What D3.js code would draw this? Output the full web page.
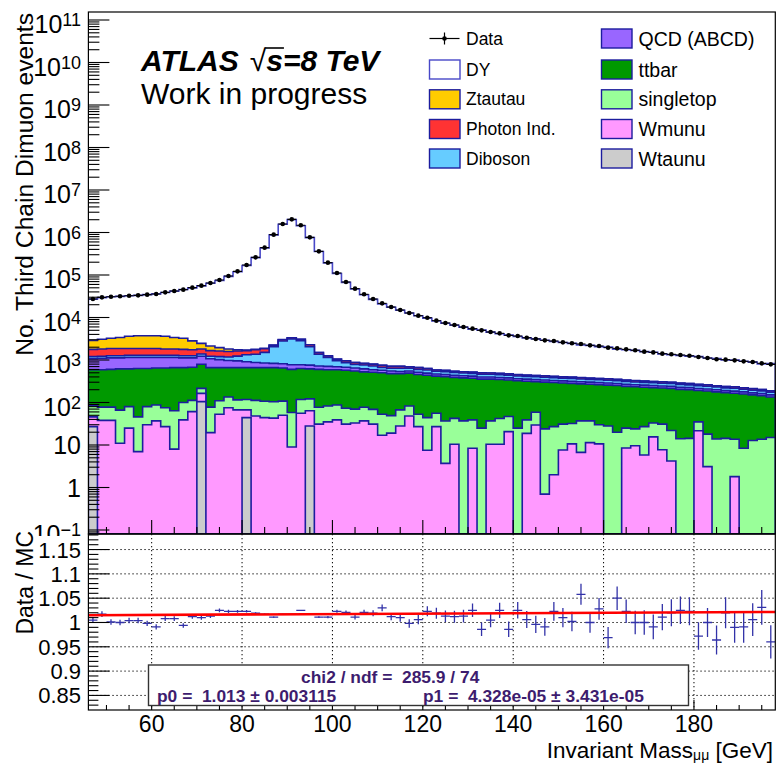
<!DOCTYPE html>
<html>
<head>
<meta charset="utf-8">
<script src="https://cdn.jsdelivr.net/npm/d3@7"></script>
<style>
  body { margin: 0; background: #fff; }
  svg { display: block; }
  text { font-family: "Liberation Sans", Arial, Helvetica, sans-serif; }
</style>
</head>
<body>
<svg id="chart" width="777" height="764"></svg>
<script>
// Binning: 76 bins of 2 GeV from 46 to 198 GeV
const massMin = 46, binWidth = 2, nBins = 76;

// Observed events per bin
const dataCounts = [27200, 29800, 30900, 31500, 32600, 33200, 34500, 35700, 39100, 42000,
  45200, 50400, 56100, 64800, 76300, 94700, 121900, 171800, 260500, 439700,
  889000, 1585000, 2040000, 1476000, 769000, 360500, 195000, 111400, 68400, 47700,
  35100, 27200, 21500, 17650, 15000, 12760, 11040, 9900, 8440, 7430,
  6670, 5980, 5460, 4990, 4560, 4240, 3800, 3670, 3350, 3120,
  2900, 2800, 2600, 2470, 2380, 2210, 2130, 1950, 1880, 1780,
  1690, 1570, 1510, 1410, 1360, 1310, 1260, 1180, 1110, 1040,
  1020, 982, 930, 898, 835, 791];

// Data / MC ratio per bin
const ratio = [1.005, 1.017, 1.001, 1.000, 1.004, 1.004, 0.998, 0.991, 1.008, 1.008,
  0.994, 1.012, 1.010, 1.013, 1.025, 1.023, 1.023, 1.023, 1.019, 1.017,
  1.011, 1.017, 1.017, 1.025, 1.017, 1.011, 1.011, 1.023, 1.021, 1.011,
  1.021, 1.019, 1.030, 1.012, 1.010, 0.998, 1.006, 1.023, 1.019, 1.013,
  1.012, 1.013, 1.025, 0.986, 1.005, 1.025, 0.986, 1.025, 1.006, 0.996,
  0.991, 1.023, 1.010, 1.002, 1.058, 1.000, 1.028, 0.969, 1.050, 1.023,
  1.000, 1.000, 0.991, 1.011, 1.020, 1.025, 1.023, 0.972, 1.000, 0.964,
  1.020, 0.990, 0.991, 1.006, 1.031, 0.960];

// Simulated samples (events per bin)
const dy = [24200, 26200, 27600, 28100, 28800, 29400, 30900, 32300, 35200, 38300,
  42200, 47000, 53100, 61800, 72500, 90800, 117400, 166200, 253900, 430500,
  877100, 1555400, 2002500, 1436900, 753800, 355100, 191600, 107800, 66000, 46300,
  33500, 25900, 20100, 16700, 14100, 12090, 10300, 9040, 7700, 6760,
  6040, 5370, 4800, 4560, 4040, 3650, 3380, 3120, 2880, 2700,
  2500, 2320, 2170, 2070, 1860, 1830, 1700, 1650, 1440, 1400,
  1360, 1250, 1210, 1090, 1030, 990, 950, 945, 850, 830,
  760, 760, 715, 680, 605, 634];

const ztautau = [1106, 1270, 1374, 1526, 1769, 1853, 1853, 1853, 1811, 1568,
  1458, 1080, 635, 478, 328, 235, 116, 60, 40, 30,
  20, 15, 12, 10, 8, 7, 6, 5, 5, 4,
  4, 4, 3, 3, 3, 3, 3, 3, 3, 3,
  3, 3, 3, 3, 3, 3, 3, 3, 3, 3,
  3, 3, 3, 3, 3, 3, 2, 2, 2, 2,
  2, 2, 2, 2, 2, 2, 2, 2, 2, 2,
  2, 2, 2, 2, 2, 2];

const photonInd = [576, 590, 603, 603, 574, 574, 574, 574, 532, 532,
  519, 479, 440, 430, 420, 408, 387, 328, 380, 330,
  170, 200, 200, 200, 220, 130, 95, 80, 85, 80,
  65, 72, 78, 72, 72, 52, 58, 48, 38, 37,
  35, 34, 33, 32, 32, 31, 30, 29, 28, 28,
  27, 27, 26, 25, 25, 24, 24, 23, 23, 22,
  21, 21, 20, 20, 19, 18, 18, 17, 17, 16,
  15, 15, 14, 14, 13, 12];

const diboson = [130, 134, 137, 137, 140, 140, 140, 140, 140, 140,
  137, 137, 150, 158, 179, 200, 280, 420, 489, 662,
  1228, 1987, 2344, 2074, 1301, 636, 442, 271, 189, 144,
  145, 133, 97, 87, 100, 87, 90, 92, 75, 73,
  70, 68, 67, 64, 64, 62, 61, 58, 57, 56,
  54, 53, 52, 51, 50, 48, 47, 46, 45, 43,
  42, 41, 40, 39, 39, 37, 36, 34, 33, 32,
  31, 30, 28, 27, 26, 24];

const qcd = [483, 507, 519, 505, 531, 517, 517, 502, 502, 487,
  461, 446, 436, 411, 362, 316, 294, 251, 210, 190,
  171, 167, 173, 145, 142, 121, 119, 103, 101, 96,
  92, 76, 74, 71, 58, 60, 56, 53, 50, 49,
  47, 46, 45, 43, 42, 42, 41, 39, 38, 37,
  36, 35, 35, 34, 33, 32, 32, 31, 30, 29,
  28, 27, 27, 26, 26, 24, 24, 23, 22, 21,
  20, 20, 19, 18, 17, 16];

const ttbar = [504, 511, 525, 551, 537, 585, 551, 559, 571, 597,
  561, 564, 579, 583, 551, 526, 546, 543, 549, 554,
  557, 538, 545, 513, 495, 526, 506, 502, 502, 480,
  448, 444, 448, 430, 412, 407, 404, 393, 361, 370,
  347, 343, 333, 330, 318, 305, 292, 299, 277, 250,
  278, 268, 257, 250, 238, 232, 233, 229, 231, 215,
  210, 202, 191, 188, 192, 190, 186, 156, 168, 164,
  156, 152, 150, 138, 131, 120];

const singletop = [39, 40, 40, 55, 55, 39, 50, 50, 48, 56,
  61, 51, 51, 58.5, 57, 60, 48, 51, 64, 63,
  61, 58, 49, 62, 58, 46, 48, 48, 42, 37,
  40, 38, 36, 30, 39, 35, 26, 36.5, 29, 33,
  32, 37, 30.6, 25, 26.6, 31.6, 26.4, 25, 20.2, 29.4,
  23.3, 25, 23.4, 21.4, 30.3, 25.6, 19.4, 28, 20, 16.5,
  14.4, 21.2, 17.5, 23.3, 17.8, 14, 14.3, 13.3, 14.9, 13.8,
  14.3, 11.9, 8.4, 12.8, 13.6, 15];

const wmunu = [19, 38, 38, 11, 25, 7, 30, 37, 27, 8,
  39, 61, 59, 19.5, 53, 75, 67, 23, 48, 44,
  43, 50, 9, 56, 36, 31, 35, 39, 31, 33,
  37, 31, 17, 19, 28, 48, 27, 7.5, 27, 3.7,
  10.4, 0, 8.4, 0, 10.4, 10.4, 20.6, 0, 18.8, 29.6,
  0.7, 2, 7.6, 10.6, 6.7, 11.4, 10.6, 0, 0, 8.5,
  9.6, 5.8, 15.5, 7.7, 4.2, 0, 0, 21.7, 3.1, 0,
  0, 1.8, 0, 0, 0, 0];

const wtaunu = [27, 0, 0, 0, 0, 0, 0, 0, 0, 0,
  0, 0, 105, 0, 0, 0, 0, 44, 0, 0,
  0, 0, 0, 0, 28, 0, 0, 0, 0, 0,
  0, 0, 0, 0, 0, 0, 0, 0, 0, 0,
  0, 0, 0, 0, 0, 0, 0, 0, 0, 0,
  0, 0, 0, 0, 0, 0, 0, 0, 0, 0,
  0, 0, 0, 0, 0, 0, 0, 0, 0, 0,
  0, 0, 0, 0, 0, 0];

// Linear fit of the ratio: p0 + p1 * m
const fitP0 = 1.013, fitP0Err = 0.003115;
const fitP1 = 4.328e-05, fitP1Err = 3.431e-05;
const fitChi2 = 285.9, fitNdf = 74;

// Axis tick labels
const massTicks = [60, 80, 100, 120, 140, 160, 180];
const ratioTicks = [0.85, 0.9, 0.95, 1, 1.05, 1.1, 1.15];
const decadeExponents = d3.range(-1, 12);

// Stack, bottom to top
const samples = [
  { name: "Wtaunu",      values: wtaunu,    color: "#cccccc" },
  { name: "Wmunu",       values: wmunu,     color: "#ff99ff" },
  { name: "singletop",   values: singletop, color: "#99ff99" },
  { name: "ttbar",       values: ttbar,     color: "#009900" },
  { name: "QCD (ABCD)",  values: qcd,       color: "#9966ff" },
  { name: "Diboson",     values: diboson,   color: "#66ccff" },
  { name: "Photon Ind.", values: photonInd, color: "#ff3333" },
  { name: "Ztautau",     values: ztautau,   color: "#ffcc00" },
  { name: "DY",          values: dy,        color: "#ffffff" }
];

// ---------- layout ----------
const svg = d3.select("#chart");
svg.append("rect").attr("width", 777).attr("height", 764).attr("fill", "#fff");

const xL = 88.4, xR = 775.3, topY = 12, midY = 534, botY = 710;
const x = d3.scaleLinear().domain([massMin, massMin + nBins * binWidth]).range([xL, xR]);
const y = d3.scaleLog().domain([0.1, 1e11]).range([530, 20]);
const yr = d3.scaleLinear().domain([0.82, 1.182]).range([botY, midY]);
const edges = d3.range(nBins + 1).map(i => massMin + i * binWidth);
const yv = v => (v > 0 ? Math.min(midY, y(v)) : midY);

const outline = "#1c1c9e";

const defs = svg.append("defs");
defs.append("clipPath").attr("id", "clipTop")
  .append("rect").attr("x", xL).attr("y", topY).attr("width", xR - xL).attr("height", midY - topY);
defs.append("clipPath").attr("id", "clipBot")
  .append("rect").attr("x", xL).attr("y", midY).attr("width", xR - xL).attr("height", botY - midY);
defs.append("clipPath").attr("id", "clipUpperPad")
  .append("rect").attr("x", 0).attr("y", 0).attr("width", 777).attr("height", midY + 2);

// ---------- upper panel: stacked histograms ----------
const upperG = svg.append("g").attr("clip-path", "url(#clipTop)");

let running = new Array(nBins).fill(0);
const cumulative = samples.map(s => {
  running = running.map((c, i) => c + s.values[i]);
  return running.slice();
});

function stepPath(vals) {
  let d = `M${x(edges[0])},${midY}`;
  vals.forEach((v, i) => {
    const yy = yv(v);
    d += `L${x(edges[i])},${yy}L${x(edges[i + 1])},${yy}`;
  });
  d += `L${x(edges[nBins])},${midY}Z`;
  return d;
}

for (let k = samples.length - 1; k >= 0; k--) {
  upperG.append("path")
    .attr("d", stepPath(cumulative[k]))
    .attr("fill", samples[k].color)
    .attr("stroke", samples[k].name === "DY" ? "#4848c8" : outline)
    .attr("stroke-width", 1.6)
    .attr("stroke-linejoin", "miter");
}

// data points
const dataG = upperG.append("g");
dataCounts.forEach((n, i) => {
  const cx = x(edges[i] + binWidth / 2), cy = y(n);
  dataG.append("line").attr("x1", x(edges[i])).attr("x2", x(edges[i + 1]))
    .attr("y1", cy).attr("y2", cy).attr("stroke", "#000").attr("stroke-width", 1.1);
  dataG.append("line").attr("x1", cx).attr("x2", cx)
    .attr("y1", y(n - Math.sqrt(n))).attr("y2", y(n + Math.sqrt(n)))
    .attr("stroke", "#000").attr("stroke-width", 1.1);
  dataG.append("circle").attr("cx", cx).attr("cy", cy).attr("r", 2.3).attr("fill", "#000");
});

// upper frame
svg.append("rect").attr("x", xL).attr("y", topY).attr("width", xR - xL).attr("height", midY - topY)
  .attr("fill", "none").attr("stroke", "#000").attr("stroke-width", 1.2);

// y axis ticks (log)
const axG = svg.append("g").attr("stroke", "#000").attr("stroke-width", 1.1);
decadeExponents.forEach(k => {
  const yy = y(Math.pow(10, k));
  axG.append("line").attr("x1", xL).attr("x2", xL + 21).attr("y1", yy).attr("y2", yy);
});
for (let k = -2; k <= 10; k++) {
  for (let m = 2; m <= 9; m++) {
    const yy = y(m * Math.pow(10, k));
    if (yy > topY && yy < midY) {
      axG.append("line").attr("x1", xL).attr("x2", xL + 11).attr("y1", yy).attr("y2", yy);
    }
  }
}
// x ticks of the upper panel
for (let m = 50; m <= 195; m += 5) {
  const major = m % 20 === 0;
  axG.append("line").attr("x1", x(m)).attr("x2", x(m))
    .attr("y1", midY).attr("y2", midY - (major ? 14 : 7));
}

// y tick labels (log); the lower pad covers anything below the upper pad
const upperLabels = svg.append("g").attr("clip-path", "url(#clipUpperPad)");
decadeExponents.forEach(k => {
  const yy = y(Math.pow(10, k));
  if (k === 0 || k === 1) {
    upperLabels.append("text").attr("x", 81).attr("y", yy + 9).attr("text-anchor", "end")
      .style("font-size", "25px").text(k === 0 ? "1" : "10");
  } else {
    const t = upperLabels.append("text").attr("x", 81).attr("y", yy + 13).attr("text-anchor", "end")
      .style("font-size", "25px");
    t.append("tspan").text("10");
    t.append("tspan").attr("dy", -7).style("font-size", "18px").text(String(k).replace("-", "\u2212"));
  }
});

// y title
svg.append("text").attr("transform", "translate(33,13) rotate(-90)")
  .attr("text-anchor", "end").style("font-size", "24.6px")
  .text("No. Third Chain Dimuon events");

// ATLAS label
const atl = svg.append("text").attr("x", 141).attr("y", 71)
  .style("font-size", "30px").style("font-weight", "bold").style("font-style", "italic");
atl.append("tspan").text("ATLAS");
atl.append("tspan").attr("dx", 11).style("font-weight", "normal").style("font-style", "normal").text("\u221A");
atl.append("tspan").text("s=8 TeV");
{
  const node = atl.node();
  const sq = node.getExtentOfChar(5);
  const s = node.getExtentOfChar(6);
  svg.append("line").attr("x1", sq.x + sq.width - 1).attr("x2", s.x + s.width + 1)
    .attr("y1", sq.y + 4).attr("y2", sq.y + 4).attr("stroke", "#000").attr("stroke-width", 1.6);
}
svg.append("text").attr("x", 141).attr("y", 104).style("font-size", "30px").text("Work in progress");

// ---------- legend ----------
const legendRows = [38.5, 69.5, 99.3, 129, 158.5];
const legendCols = [{ box: 429.5, text: 466, size: 17.5, dy: 6 },
                    { box: 601.5, text: 638.5, size: 19.5, dy: 7 }];
const legendOrder = [["Data", "DY", "Ztautau", "Photon Ind.", "Diboson"],
                     ["QCD (ABCD)", "ttbar", "singletop", "Wmunu", "Wtaunu"]];
const leg = svg.append("g");
legendOrder.forEach((col, c) => {
  col.forEach((name, r) => {
    const cy = legendRows[r], bx = legendCols[c].box;
    if (name === "Data") {
      leg.append("line").attr("x1", bx).attr("x2", bx + 30).attr("y1", cy).attr("y2", cy)
        .attr("stroke", "#000").attr("stroke-width", 1.2);
      leg.append("line").attr("x1", bx + 15).attr("x2", bx + 15).attr("y1", cy - 6).attr("y2", cy + 6)
        .attr("stroke", "#000").attr("stroke-width", 1.2);
      leg.append("circle").attr("cx", bx + 15).attr("cy", cy).attr("r", 2.3).attr("fill", "#000");
    } else {
      const s = samples.find(d => d.name === name);
      leg.append("rect").attr("x", bx).attr("y", cy - 9.5).attr("width", 30.5).attr("height", 19)
        .attr("fill", s.color).attr("stroke", name === "DY" ? "#4848c8" : outline).attr("stroke-width", 1.4);
    }
    leg.append("text").attr("x", legendCols[c].text).attr("y", cy + legendCols[c].dy)
      .style("font-size", legendCols[c].size + "px").text(name);
  });
});

// ---------- lower panel: ratio ----------
const lowerG = svg.append("g");
svg.append("rect").attr("x", 0).attr("y", midY + 1).attr("width", xL - 1).attr("height", 40).attr("fill", "none");
const grid = lowerG.append("g").attr("stroke", "#000").attr("stroke-width", 1)
  .attr("stroke-dasharray", "1.3,2.7");
massTicks.forEach(m => {
  grid.append("line").attr("x1", x(m)).attr("x2", x(m)).attr("y1", midY).attr("y2", botY);
});
ratioTicks.forEach(v => {
  grid.append("line").attr("x1", xL).attr("x2", xR).attr("y1", yr(v)).attr("y2", yr(v));
});

const rg = lowerG.append("g").attr("clip-path", "url(#clipBot)")
  .attr("stroke", "#3232a8").attr("stroke-width", 1.3);
ratio.forEach((r, i) => {
  const cx = x(edges[i] + binWidth / 2), cy = yr(r);
  const err = r / Math.sqrt(dataCounts[i]);
  rg.append("line").attr("x1", x(edges[i])).attr("x2", x(edges[i + 1])).attr("y1", cy).attr("y2", cy);
  rg.append("line").attr("x1", cx).attr("x2", cx).attr("y1", yr(r - err)).attr("y2", yr(r + err));
});

// fitted line
const fitLine = d3.line().x(m => x(m)).y(m => yr(fitP0 + fitP1 * m));
lowerG.append("path").attr("d", fitLine([massMin, massMin + nBins * binWidth]))
  .attr("fill", "none").attr("stroke", "#ff0000").attr("stroke-width", 2.6);

// lower frame
svg.append("rect").attr("x", xL).attr("y", midY).attr("width", xR - xL).attr("height", botY - midY)
  .attr("fill", "none").attr("stroke", "#000").attr("stroke-width", 1.2);

// lower axis ticks
const ax2 = svg.append("g").attr("stroke", "#000").attr("stroke-width", 1.1);
for (let v = 83; v <= 118; v++) {
  const yy = yr(v / 100);
  if (yy <= midY || yy >= botY) continue;
  const major = v % 5 === 0;
  ax2.append("line").attr("x1", xL).attr("x2", xL + (major ? 21 : 10)).attr("y1", yy).attr("y2", yy);
}
for (let m = 50; m <= 195; m += 5) {
  const major = m % 20 === 0;
  ax2.append("line").attr("x1", x(m)).attr("x2", x(m))
    .attr("y1", botY).attr("y2", botY - (major ? 10 : 5));
}

// lower labels
ratioTicks.forEach(v => {
  svg.append("text").attr("x", 81).attr("y", yr(v) + 8).attr("text-anchor", "end")
    .style("font-size", "22px").text(String(+v.toFixed(2)));
});
massTicks.forEach(m => {
  svg.append("text").attr("x", x(m)).attr("y", 732).attr("text-anchor", "middle")
    .style("font-size", "23px").text(m);
});
svg.append("text").attr("transform", "translate(33,531) rotate(-90)")
  .attr("text-anchor", "end").style("font-size", "23px").text("Data / MC");

const xt = svg.append("text").attr("x", 773).attr("y", 758).attr("text-anchor", "end")
  .style("font-size", "22.5px");
xt.append("tspan").text("Invariant Mass");
xt.append("tspan").attr("dy", 2).style("font-size", "14px").text("\u03BC\u03BC");
xt.append("tspan").attr("dy", -2).text(" [GeV]");

// fit statistics box
const fitColor = "#3d1c6e";
svg.append("rect").attr("x", 148.5).attr("y", 665).attr("width", 540).attr("height", 40.5)
  .attr("fill", "#fff").attr("stroke", "#333").attr("stroke-width", 1.4);
const fitText = (xx, yy, str) => svg.append("text").attr("x", xx).attr("y", yy)
  .attr("fill", fitColor).attr("xml:space", "preserve")
  .style("font-size", "17.4px").style("font-weight", "bold").style("white-space", "pre")
  .text(str);
const expo = v => v.toExponential(3).replace(/e([+-])(\d)$/, "e$10$2");
fitText(301, 683, `chi2 / ndf =  ${fitChi2} / ${fitNdf}`);
fitText(157, 701.5, `p0 =  ${fitP0} \u00B1 ${fitP0Err}`);
fitText(423, 701.5, `p1 =  ${expo(fitP1)} \u00B1 ${expo(fitP1Err)}`);
</script>
</body>
</html>
